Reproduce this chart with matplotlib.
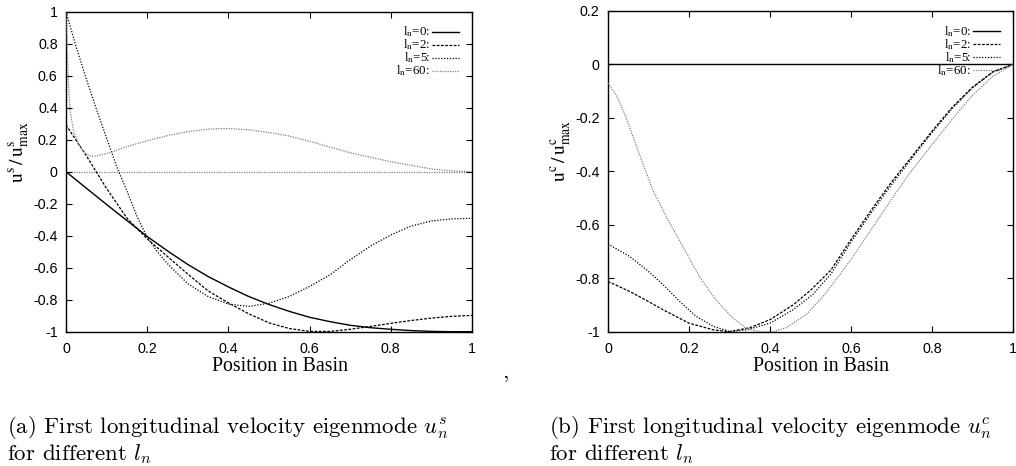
import matplotlib
matplotlib.use("Agg")
import matplotlib.pyplot as plt
import numpy as np

# ---------------- data ----------------
# (a) u^s / u^s_max
xs_l0 = [0, 0.05, 0.1, 0.15, 0.2, 0.25, 0.3, 0.35, 0.4, 0.45, 0.5, 0.55, 0.6,
         0.65, 0.7, 0.75, 0.8, 0.85, 0.9, 0.95, 1.0]
us_l0 = [0, -0.103, -0.205, -0.305, -0.405, -0.495, -0.58, -0.655, -0.72, -0.78,
         -0.83, -0.873, -0.91, -0.937, -0.96, -0.975, -0.985, -0.993, -0.998, -1.0, -1.0]

xs_l2 = [0, 0.05, 0.1, 0.15, 0.2, 0.25, 0.3, 0.35, 0.4, 0.45, 0.5, 0.55, 0.6,
         0.65, 0.7, 0.75, 0.8, 0.85, 0.9, 0.95, 1.0]
us_l2 = [0.292, 0.1, -0.105, -0.29, -0.42, -0.53, -0.64, -0.745, -0.82, -0.888,
         -0.945, -0.98, -0.998, -0.998, -0.985, -0.967, -0.948, -0.93, -0.915, -0.904, -0.898]

xs_l5 = [0, 0.025, 0.05, 0.075, 0.1, 0.125, 0.15, 0.175, 0.2, 0.225, 0.25, 0.3,
         0.35, 0.4, 0.45, 0.5, 0.55, 0.6, 0.65, 0.7, 0.75, 0.8, 0.85, 0.9, 0.95, 1.0]
us_l5 = [1.0, 0.78, 0.58, 0.39, 0.21, 0.03, -0.12, -0.28, -0.41, -0.50, -0.575, -0.70,
         -0.78, -0.827, -0.842, -0.822, -0.78, -0.717, -0.645, -0.55, -0.465, -0.395,
         -0.34, -0.308, -0.295, -0.291]

xs_l60 = [0, 0.003, 0.006, 0.01, 0.018, 0.03, 0.043, 0.059, 0.075, 0.108, 0.149,
          0.2, 0.256, 0.3, 0.355, 0.4, 0.45, 0.5, 0.55, 0.6, 0.675, 0.7, 0.8, 0.9,
          0.95, 1.0]
us_l60 = [1.0, 0.8, 0.55, 0.385, 0.26, 0.177, 0.125, 0.098, 0.098, 0.119, 0.156,
          0.194, 0.229, 0.25, 0.267, 0.27, 0.262, 0.245, 0.223, 0.19, 0.136, 0.118,
          0.0625, 0.017, 0.005, 0.0]

# (b) u^c / u^c_max
xc_l0 = [0, 1.0]
uc_l0 = [0, 0]

xc_l2 = [0, 0.053, 0.095, 0.136, 0.2, 0.26, 0.3, 0.35, 0.4, 0.457, 0.5, 0.55,
         0.6, 0.65, 0.7, 0.75, 0.8, 0.85, 0.9, 0.95, 1.0]
uc_l2 = [-0.812, -0.849, -0.883, -0.918, -0.968, -0.993, -1.0, -0.985, -0.955,
         -0.9, -0.845, -0.77, -0.655, -0.545, -0.44, -0.345, -0.25, -0.16,
         -0.085, -0.028, 0.0]

xc_l5 = [0, 0.053, 0.095, 0.136, 0.177, 0.218, 0.26, 0.3, 0.342, 0.4, 0.457,
         0.506, 0.55, 0.6, 0.65, 0.7, 0.75, 0.8, 0.85, 0.9, 0.95, 1.0]
uc_l5 = [-0.672, -0.718, -0.768, -0.824, -0.887, -0.943, -0.98, -0.999, -0.993,
         -0.968, -0.918, -0.86, -0.785, -0.665, -0.555, -0.45, -0.352, -0.255, -0.165,
         -0.088, -0.028, 0.0]

xc_l60 = [0, 0.021, 0.041, 0.062, 0.086, 0.111, 0.144, 0.185, 0.226, 0.267,
          0.309, 0.342, 0.374, 0.407, 0.44, 0.49, 0.53, 0.556, 0.6, 0.64, 0.7, 0.741,
          0.8, 0.85, 0.9, 0.95, 1.0]
uc_l60 = [-0.07, -0.116, -0.184, -0.271, -0.371, -0.471, -0.57, -0.682, -0.795,
          -0.882, -0.95, -0.988, -1.0, -1.0, -0.985, -0.935, -0.87, -0.82, -0.73,
          -0.64, -0.505, -0.415, -0.3, -0.205, -0.115, -0.045, 0.0]

series_labels = ["0", "2", "5", "60"]
x_ticks = [0, 0.2, 0.4, 0.6, 0.8, 1.0]
x_ticklabels = ["0", "0.2", "0.4", "0.6", "0.8", "1"]
ys_ticks = [-1, -0.8, -0.6, -0.4, -0.2, 0, 0.2, 0.4, 0.6, 0.8, 1.0]
ys_ticklabels = ["-1", "-0.8", "-0.6", "-0.4", "-0.2", "0", "0.2", "0.4", "0.6", "0.8", "1"]
yc_ticks = [-1, -0.8, -0.6, -0.4, -0.2, 0, 0.2]
yc_ticklabels = ["-1", "-0.8", "-0.6", "-0.4", "-0.2", "0", "0.2"]

caption_a = [r"(a) First longitudinal velocity eigenmode $u_n^s$", r"for different $l_n$"]
caption_b = [r"(b) First longitudinal velocity eigenmode $u_n^c$", r"for different $l_n$"]

# ---------------- styling ----------------
W, H = 1016, 466
DPI = 100
fig = plt.figure(figsize=(W / DPI, H / DPI), dpi=DPI)
fig.patch.set_facecolor("white")

styles = [
    dict(color="black", lw=1.0, ls="-"),
    dict(color="black", lw=0.9, ls=(0, (2.2, 1.2))),
    dict(color="black", lw=0.9, ls=(0, (1.0, 1.3))),
    dict(color="#808080", lw=0.9, ls=(0, (1.0, 1.0))),
]

def px_axes(left, right, top, bottom):
    return [left / W, 1 - bottom / H, (right - left) / W, (bottom - top) / H]

axL = fig.add_axes(px_axes(66, 472, 11.7, 331.7))
axR = fig.add_axes(px_axes(608, 1013, 11, 331.7))

tick_font = dict(family="Liberation Sans", size=10.3)
serif = "Liberation Serif"

def setup(ax, yticks, ylabels, ylim, ylabel):
    ax.set_xlim(0, 1)
    ax.set_ylim(*ylim)
    ax.set_xticks(x_ticks)
    ax.set_xticklabels(x_ticklabels, fontdict=tick_font)
    ax.set_yticks(yticks)
    ax.set_yticklabels(ylabels, fontdict=tick_font)
    ax.tick_params(direction="in", length=4.5, width=0.8, top=True, right=True,
                   colors="black")
    ax.tick_params(axis="x", pad=7.5)
    ax.tick_params(axis="y", pad=6)
    for s in ax.spines.values():
        s.set_linewidth(1.0)
        s.set_color("black")
    ax.set_xlabel("Position in Basin", family=serif, size=14.3, va="center")
    ax.xaxis.set_label_coords(0.527, -0.109)
    ax.set_ylabel(ylabel, size=14, va="center", math_fontfamily="stix")
    ax.yaxis.set_label_coords(-46 / 406, 0.5625)

setup(axL, ys_ticks, ys_ticklabels, (-1, 1),
      r"$\mathrm{u^s\,/\,u^s_{max}}$")
setup(axR, yc_ticks, yc_ticklabels, (-1, 0.2),
      r"$\mathrm{u^c\,/\,u^c_{max}}$")

axL.axhline(0, color="#808080", lw=0.9, ls=(0, (1.0, 1.0)), zorder=1)

left_data = [(xs_l0, us_l0), (xs_l2, us_l2), (xs_l5, us_l5), (xs_l60, us_l60)]
right_data = [(xc_l0, uc_l0), (xc_l2, uc_l2), (xc_l5, uc_l5), (xc_l60, uc_l60)]

for ax, data in ((axL, left_data), (axR, right_data)):
    for (x, y), st in zip(data, styles):
        ax.plot(x, y, **st, zorder=3, clip_on=True)

# gnuplot-style key: text then sample line, top right
def key(ax, width_px):
    rows_px = [32, 45, 58, 71]
    ax_top = 11.7
    ax_h = 320.0
    for r, lab, st in zip(rows_px, series_labels, styles):
        yf = 1 - (r - ax_top) / ax_h
        x0 = 1 - 40 / width_px
        x1 = 1 - 13 / width_px
        ax.plot([x0, x1], [yf, yf], transform=ax.transAxes, clip_on=False, **st)
        ax.text(1 - 42 / width_px, yf, r"l$_{\mathrm{n}}$=" + lab + ":",
                transform=ax.transAxes, ha="right", va="center",
                family=serif, size=9.3, math_fontfamily="stix")

key(axL, 406)
key(axR, 405)

# captions
cap_kw = dict(family="cmr10", size=16.5, math_fontfamily="cm", va="baseline")
fig.text(7 / W, 1 - 433 / H, caption_a[0], **cap_kw)
fig.text(7 / W, 1 - 460 / H, caption_a[1], **cap_kw)
fig.text(549 / W, 1 - 433 / H, caption_b[0], **cap_kw)
fig.text(549 / W, 1 - 460 / H, caption_b[1], **cap_kw)
fig.text(502 / W, 1 - 378 / H, ",", **cap_kw)

fig.savefig("out.png", dpi=DPI, facecolor="white")
